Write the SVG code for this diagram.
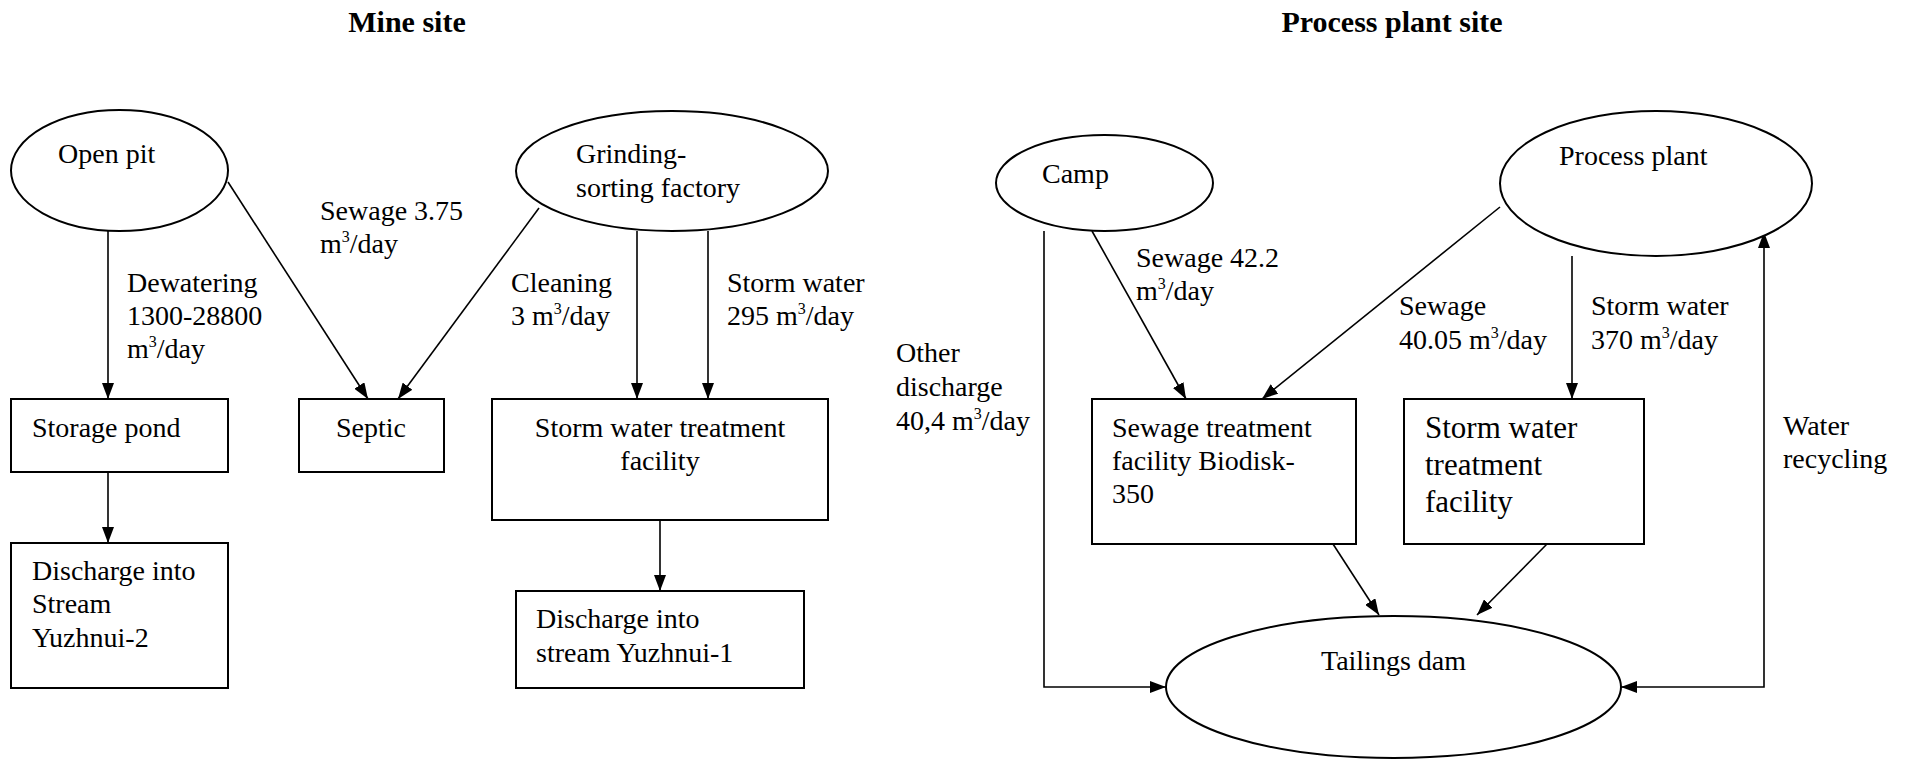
<svg xmlns="http://www.w3.org/2000/svg" width="1907" height="760" viewBox="0 0 1907 760">
<style>
text{font-family:"Liberation Serif","Times New Roman",serif;font-size:28px;fill:#000}
.t{font-weight:bold;font-size:30px}
.big{font-size:31px}
.sh{fill:#fff;stroke:#000;stroke-width:2}
.c{fill:none;stroke:#000;stroke-width:1.6}
.sup{font-size:16px}
</style>
<defs>
<marker id="a" viewBox="0 0 16 12" refX="16" refY="6" markerWidth="16" markerHeight="12" markerUnits="userSpaceOnUse" orient="auto-start-reverse"><path d="M0,0 L16,6 L0,12 z" fill="#000"/></marker>
</defs>
<rect width="1907" height="760" fill="#fff"/>
<text class="t" x="407" y="32" text-anchor="middle">Mine site</text>
<text class="t" x="1392" y="32" text-anchor="middle">Process plant site</text>

<g id="connectors">
<path class="c" d="M108 231V399" marker-end="url(#a)"/>
<path class="c" d="M228 182L368 399" marker-end="url(#a)"/>
<path class="c" d="M539 208L398 399" marker-end="url(#a)"/>
<path class="c" d="M637 231V399" marker-end="url(#a)"/>
<path class="c" d="M708 231V399" marker-end="url(#a)"/>
<path class="c" d="M108 472V543" marker-end="url(#a)"/>
<path class="c" d="M660 520V591" marker-end="url(#a)"/>
<path class="c" d="M1044 231V687H1166" marker-end="url(#a)"/>
<path class="c" d="M1092 231L1186 399" marker-end="url(#a)"/>
<path class="c" d="M1500 207L1262 399" marker-end="url(#a)"/>
<path class="c" d="M1572 256V399" marker-end="url(#a)"/>
<path class="c" d="M1333 544L1379 615" marker-end="url(#a)"/>
<path class="c" d="M1547 544L1477 615" marker-end="url(#a)"/>
<path class="c" d="M1621 687H1764V232" marker-start="url(#a)" marker-end="url(#a)"/>
<text x="320" y="220">Sewage 3.75</text>
<text x="320" y="253">m<tspan class="sup" dy="-11">3</tspan><tspan dy="11">/day</tspan></text>
<text x="127" y="292">Dewatering</text>
<text x="127" y="325">1300-28800</text>
<text x="127" y="358">m<tspan class="sup" dy="-11">3</tspan><tspan dy="11">/day</tspan></text>
<text x="511" y="292">Cleaning</text>
<text x="511" y="325">3 m<tspan class="sup" dy="-11">3</tspan><tspan dy="11">/day</tspan></text>
<text x="727" y="292">Storm water</text>
<text x="727" y="325">295 m<tspan class="sup" dy="-11">3</tspan><tspan dy="11">/day</tspan></text>
<text x="896" y="362">Other</text>
<text x="896" y="396">discharge</text>
<text x="896" y="430">40,4 m<tspan class="sup" dy="-11">3</tspan><tspan dy="11">/day</tspan></text>
<text x="1136" y="267">Sewage 42.2</text>
<text x="1136" y="300">m<tspan class="sup" dy="-11">3</tspan><tspan dy="11">/day</tspan></text>
<text x="1399" y="315">Sewage</text>
<text x="1399" y="349">40.05 m<tspan class="sup" dy="-11">3</tspan><tspan dy="11">/day</tspan></text>
<text x="1591" y="315">Storm water</text>
<text x="1591" y="349">370 m<tspan class="sup" dy="-11">3</tspan><tspan dy="11">/day</tspan></text>
<text x="1783" y="435">Water</text>
<text x="1783" y="468">recycling</text>
</g>

<g id="open-pit"><ellipse class="sh" cx="119.5" cy="170.5" rx="108.5" ry="60.5"/><text x="58" y="163">Open pit</text></g>
<g id="grinding"><ellipse class="sh" cx="672" cy="171" rx="156" ry="60"/><text x="576" y="163">Grinding-</text><text x="576" y="197">sorting factory</text></g>
<g id="storage-pond"><rect class="sh" x="11" y="399" width="217" height="73"/><text x="32" y="437">Storage pond</text></g>
<g id="septic"><rect class="sh" x="299" y="399" width="145" height="73"/><text x="371" y="437" text-anchor="middle">Septic</text></g>
<g id="storm-mine"><rect class="sh" x="492" y="399" width="336" height="121"/><text x="660" y="437" text-anchor="middle">Storm water treatment</text><text x="660" y="470" text-anchor="middle">facility</text></g>
<g id="discharge-2"><rect class="sh" x="11" y="543" width="217" height="145"/><text x="32" y="580">Discharge into</text><text x="32" y="613">Stream</text><text x="32" y="647">Yuzhnui-2</text></g>
<g id="discharge-1"><rect class="sh" x="516" y="591" width="288" height="97"/><text x="536" y="628">Discharge into</text><text x="536" y="662">stream Yuzhnui-1</text></g>
<g id="camp"><ellipse class="sh" cx="1104.5" cy="183" rx="108.5" ry="48"/><text x="1042" y="183">Camp</text></g>
<g id="process-plant"><ellipse class="sh" cx="1656" cy="183.5" rx="156" ry="72.5"/><text x="1559" y="165">Process plant</text></g>
<g id="sewage-treatment"><rect class="sh" x="1092" y="399" width="264" height="145"/><text x="1112" y="437">Sewage treatment</text><text x="1112" y="470">facility Biodisk-</text><text x="1112" y="503">350</text></g>
<g id="storm-plant"><rect class="sh" x="1404" y="399" width="240" height="145"/><text class="big" x="1425" y="438">Storm water</text><text class="big" x="1425" y="475">treatment</text><text class="big" x="1425" y="512">facility</text></g>
<g id="tailings"><ellipse class="sh" cx="1393.5" cy="687" rx="227.5" ry="71"/><text x="1393.5" y="670" text-anchor="middle">Tailings dam</text></g>
</svg>
